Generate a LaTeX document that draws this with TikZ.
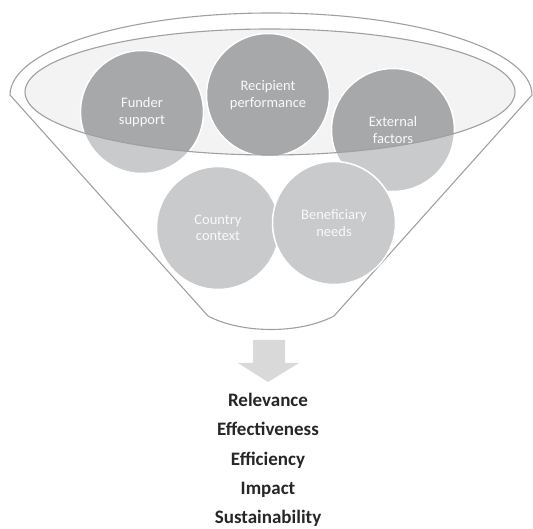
\documentclass[tikz,border=0pt]{standalone}
\usepackage{fontspec}
\setmainfont{Carlito}
\usetikzlibrary{positioning}
\definecolor{funnelline}{HTML}{A0A0A0}
\definecolor{rimfill}{HTML}{F2F3F2}
\definecolor{bubblelight}{HTML}{C9CACB}
\definecolor{bubbledark}{HTML}{A7A8AA}
\definecolor{arrowgray}{HTML}{D9D9D9}
\definecolor{critgray}{HTML}{262626}

\begin{document}
\begin{tikzpicture}
      [ x=1pt, y=1pt
      , funnel/.style={draw=funnelline, line width=1.1pt}
      , bubble/.style={circle, fill=bubblelight, minimum size=123pt, inner sep=0pt}
      , bubbletext/.style={text=white!95!gray, align=center, font=\fontsize{14.5}{16.5}\selectfont}
      , criterion/.style={anchor=base, text=critgray, font=\fontsize{19}{22}\selectfont\bfseries}
      ]
    \useasboundingbox (0,0) rectangle (533,529);

    % outer funnel
    \draw[funnel] (10,434) arc[start angle=180, end angle=0, x radius=261, y radius=82]
      -- (334,213) .. controls (300,195) and (242,195) .. (208,213) -- cycle;

    % rim of the funnel
    \fill[rimfill] (270,437) ellipse [x radius=245, y radius=63];

    \foreach \name/\px/\py in {funder/142/417, recipient/268/434, external/393/399,
                               country/218/301, beneficiary/334/306}
    {
      \node[bubble] (\name) at (\px,\py) {};
      \begin{scope}
        \clip (270,437) ellipse [x radius=245, y radius=63];
        \fill[bubbledark] (\name) circle[radius=61.5];
      \end{scope}
      \draw[white, line width=1.5pt] (\name) circle[radius=61.5];
    }

    \draw[funnel] (270,437) ellipse [x radius=245, y radius=63];

    \node[bubbletext] (funderT)      at (funder)      {Funder\\support};
    \node[bubbletext] (recipientT)   at (recipient)   {Recipient\\performance};
    \node[bubbletext] (externalT)    at (external)    {External\\factors};
    \node[bubbletext] (countryT)     at (country)     {Country\\context};
    \node[bubbletext] (beneficiaryT) at (beneficiary) {Beneficiary\\needs};

    % down arrow
    \fill[arrowgray] (253,189) -- (285,189) -- (285,166) -- (299,166)
      -- (268,147) -- (238,166) -- (253,166) -- cycle;

    \node[criterion] (rel) at (268,122)  {Relevance};
    \node[criterion] (eff) at (268,93)   {Effectiveness};
    \node[criterion] (efi) at (268,63.5) {Efficiency};
    \node[criterion] (imp) at (268,34)   {Impact};
    \node[criterion] (sus) at (268,5)    {Sustainability};
\end{tikzpicture}
\end{document}
